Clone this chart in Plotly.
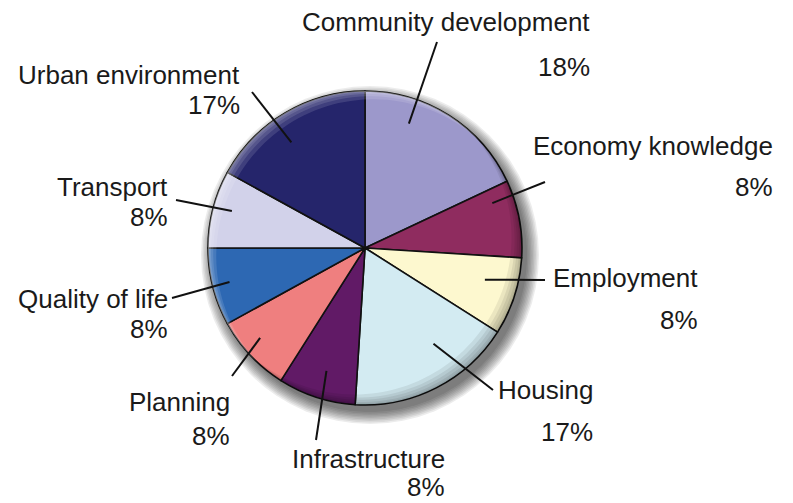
import numpy as np
import plotly.graph_objects as go

# ---- data -------------------------------------------------------------
categories = ["Community development", "Economy knowledge", "Employment", "Housing",
              "Infrastructure", "Planning", "Quality of life", "Transport",
              "Urban environment"]
shares = [18, 8, 8, 17, 8, 8, 8, 8, 17]
pct_labels = [f"{v}%" for v in shares]

# ---- styling ----------------------------------------------------------
slice_colors = ["#9c98cb", "#8f2c5f", "#fdf8cf", "#d3ebf2", "#611a66",
                "#ef7f7f", "#2d68b3", "#d2d2ea", "#25256b"]

W, H = 793, 503
CX, CY, R = 365, 248, 157          # pie centre and radius in pixels

# leader line: where along each slice it starts (fraction of the slice's sweep,
# fraction of the radius) and where it ends outside the pie
tip_frac = [0.30, 0.20, 0.39, 0.36, 0.48, 0.59, 0.51, 0.54, 0.43]
tip_rad = [0.84, 0.86, 0.79, 0.75, 0.82, 0.88, 0.89, 0.88, 0.82]
line_end = [(437, 42), (545, 182), (545, 280), (493, 390), (316, 440),
            (232, 376), (172, 298), (176, 200), (252, 92)]
# label text: right edge, centre of the name line, centre of the percent line
text_right = [592, 775, 700, 595, 447, 232, 170, 170, 242]
name_y = [22, 146, 278, 390, 459, 402, 299, 187, 75]
pct_y = [67, 187, 320, 432, 487, 436, 329, 217, 105]

FONT = dict(family="Liberation Sans, Arial, sans-serif", size=26, color="#1a1a1a")

fig = go.Figure()

# invisible pixel-space axes used to place the decoration and labels
fig.add_trace(go.Scatter(x=[None], y=[None], showlegend=False, hoverinfo="skip"))

fig.add_trace(go.Pie(
    labels=categories,
    values=shares,
    sort=False,
    direction="clockwise",
    rotation=0,
    textinfo="none",
    hoverinfo="label+percent",
    marker=dict(colors=slice_colors, line=dict(color="#111111", width=1.6)),
    domain=dict(x=[(CX - R) / W, (CX + R) / W],
                y=[1 - (CY + R) / H, 1 - (CY - R) / H]),
    showlegend=False,
))

shapes = []

# soft drop shadow toward the lower right
for k in range(9):
    rr = R + k * 1.5
    ox, oy = CX + 5, CY + 7
    shapes.append(dict(type="circle", xref="x", yref="y", layer="below",
                       x0=ox - rr, x1=ox + rr, y0=oy - rr, y1=oy + rr,
                       fillcolor="rgba(0,0,0,0.075)", line=dict(width=0)))


def crescent(sx, sy):
    """Region of the pie disc not covered by the disc shifted by (sx, sy)."""
    d = np.hypot(sx, sy)
    phi = np.arctan2(-sy, -sx)
    alpha = np.arccos(-d / (2 * R))
    beta = np.arccos(d / (2 * R))
    a1 = np.linspace(phi - alpha, phi + alpha, 80)
    a2 = np.linspace(phi + beta, phi - beta, 80)
    xs = np.concatenate([CX + R * np.cos(a1), CX + sx + R * np.cos(a2)])
    ys = np.concatenate([CY + R * np.sin(a1), CY + sy + R * np.sin(a2)])
    path = "M " + " L ".join(f"{x:.2f},{y:.2f}" for x, y in zip(xs, ys)) + " Z"
    return path


# bevel: darker rim at lower right, lighter rim at upper left
for d in [2, 4, 7, 10, 14]:
    shapes.append(dict(type="path", xref="x", yref="y", layer="above",
                       path=crescent(-d * 0.75, -d * 0.75),
                       fillcolor="rgba(0,0,0,0.07)", line=dict(width=0)))
for d in [2, 4, 7, 11]:
    shapes.append(dict(type="path", xref="x", yref="y", layer="above",
                       path=crescent(d * 0.75, d * 0.75),
                       fillcolor="rgba(255,255,255,0.12)", line=dict(width=0)))

# leader lines and labels
annotations = []
total = sum(shares)
start = 0.0
for i, v in enumerate(shares):
    sweep = 360.0 * v / total
    ang = np.radians(start + tip_frac[i] * sweep)
    tx = CX + tip_rad[i] * R * np.sin(ang)
    ty = CY - tip_rad[i] * R * np.cos(ang)
    ex, ey = line_end[i]
    shapes.append(dict(type="line", xref="x", yref="y", layer="above",
                       x0=tx, y0=ty, x1=ex, y1=ey,
                       line=dict(color="#111111", width=2)))
    annotations.append(dict(x=text_right[i], y=name_y[i], xref="x", yref="y",
                            xanchor="right", yanchor="middle", showarrow=False,
                            text=categories[i], font=FONT))
    annotations.append(dict(x=text_right[i], y=pct_y[i], xref="x", yref="y",
                            xanchor="right", yanchor="middle", showarrow=False,
                            text=pct_labels[i], font=FONT))
    start += sweep

fig.update_layout(
    width=W, height=H, autosize=False,
    margin=dict(l=0, r=0, t=0, b=0),
    paper_bgcolor="white", plot_bgcolor="white",
    xaxis=dict(range=[0, W], visible=False, fixedrange=True),
    yaxis=dict(range=[H, 0], visible=False, fixedrange=True),
    shapes=shapes,
    annotations=annotations,
)

fig.write_html("out.html")
